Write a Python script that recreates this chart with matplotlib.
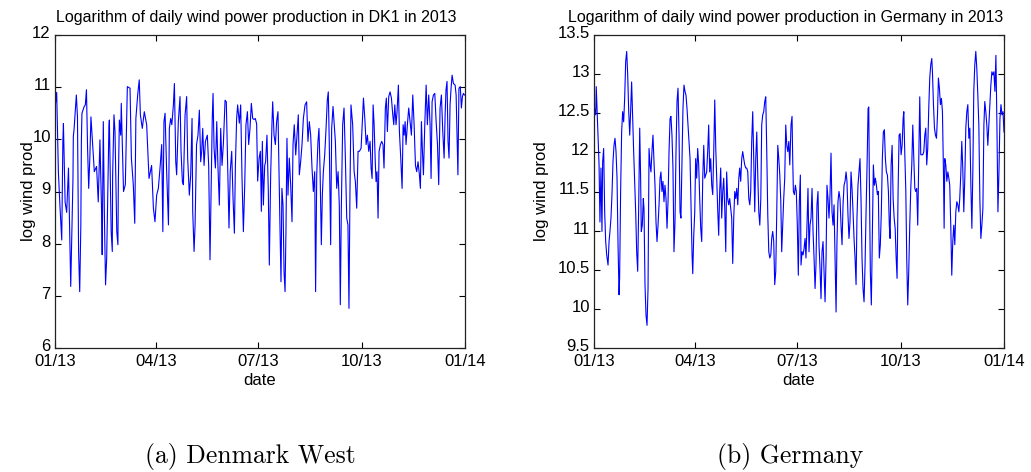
import numpy as np
import matplotlib
matplotlib.use("Agg")
import matplotlib.pyplot as plt
import matplotlib.transforms as mtransforms

# ---------------- data ----------------
dk_days = [0, 1.5, 3, 4.5, 6, 7, 7.5, 9, 10.4, 12, 13.4, 14, 15, 16, 16.3, 17, 19, 20, 21, 22, 23, 23.5, 24, 26, 27, 28,
           29, 30, 31, 32, 33.5, 35, 37, 38.5, 40, 41.5, 42, 43, 44, 45, 46, 48, 48.4, 50, 51, 51.3, 52.5, 53.4, 55, 56,
           56.4, 57.3, 58.5, 59, 61, 62.6, 64.4, 66.8, 68, 69.7, 71, 72, 73.6, 75, 76, 77.7, 79.5, 81.6, 83.7,
           86, 87.6, 89, 90.5, 92, 93.5, 95, 96, 97, 98, 99.4, 101, 101.8, 103, 104, 105.4, 106.3, 107.5, 108.3, 109.8,
           111.3, 112.2, 113.4, 114.3, 115.8, 117.2, 118.1, 119.6, 120.8, 122, 122.6, 123.8, 124.7, 126, 127.3, 128.5,
           129.7, 130.6, 131.5, 132.7, 133.9, 135.6, 136.8, 138, 139.2, 140, 140.7, 141.6, 142.8, 144, 145.1, 146.3,
           147.5, 148.7, 149.9, 151.4, 152.5, 153.7, 154.9, 156, 157.3, 158.5, 159.7, 160.6, 161.7, 162.6, 164.1, 165.3,
           166.5, 167.7, 168.9, 170, 171.3, 172.4, 173.6, 174.8, 176, 177.2, 178.3, 179.5, 180.4, 181.7,
           182.8, 183.7, 184.6, 185.5, 186.7, 187.5, 188.7, 189.9, 190.8, 192, 193.2, 193.8, 195, 196.2, 197.3, 198.5,
           199.4, 200.3, 201.2, 202, 203, 203.9, 204.8, 205.6, 206.5, 207.4, 208.6, 209.8, 211, 211.9, 213, 214.3, 215.4,
           216.6, 217.5, 218.7, 219.9, 221.1, 222.6, 224, 225.2, 226.4, 227.6, 228.8, 230, 231.2, 232, 233, 234.1, 235,
           236, 237.1, 238, 238.9, 240.1, 241.3, 242.4, 243.3, 244.2, 245.4, 246.3, 247.5, 248.6, 249.6, 250.8, 252,
           253.1, 254, 254.9, 256.1, 257.3, 258.5, 259.7, 260.8, 261.7, 262.6, 263.5,
           265, 266.3, 267.4, 268.6, 269.8, 271, 272.5, 273.7, 274.6, 275.8, 277, 278.1, 279.3, 280.5, 281.4, 282.3,
           283.2, 284.1, 285, 285.8, 286.7, 287.6, 288.5, 289.7, 290.9, 292, 292.9, 294.1, 295, 295.9, 297.1, 298.3,
           299.5, 300.7, 301.6, 302.5, 303.6, 304.5, 305.7, 306.6, 307.8, 309, 309.9, 310.8, 311.7, 312.5, 313.7, 314.9,
           316.1, 317.3, 318.5, 319.7, 320.9, 322, 323.2, 324.4, 325.3, 326.2, 327.1, 328, 329.2, 330.4, 331.5, 332.7,
           333.9, 334.8, 335.7, 336.9, 338.1, 339.3, 340.5, 341.6, 342.8, 344, 345.2, 346.4, 347.3, 348.1, 349, 349.9,
           350.8, 351.7, 352.6, 353.5, 354.7, 356.2, 357.1, 358, 358.7, 359.6, 360.8, 361.8, 362.7, 363.6, 364.5]
dk_vals = [10.6, 10.9, 9.38, 8.68, 8.07, 9.96, 10.3, 8.8, 8.6, 9.45, 7.9, 7.18, 8.23, 9.25, 10.05, 10.2, 10.85, 10.43,
           7.85, 7.08, 8.36, 9.99, 10.5, 10.63, 10.66, 10.95, 9.83, 9.06, 9.64, 10.43, 9.9, 9.38, 9.48, 8.8, 9.99, 8.6,
           7.79, 10.34, 8.49, 7.21, 7.72, 10.24, 10.37, 8.23, 7.85, 9.3, 10.47, 10.15, 8.23, 7.98, 9.19, 10.37, 10.08,
           10.69, 9.0, 9.13, 11.01, 10.98, 9.64, 9.13, 8.39, 10.4, 10.85, 11.14, 10.47, 10.21, 10.53, 10.28, 9.25,
           9.5, 8.68, 8.42, 8.93, 9.06, 9.45, 9.9, 8.23, 10.34, 10.5, 9.38, 8.36, 10.21, 10.4, 10.28, 10.66, 11.07, 9.57,
           9.32, 10.34, 10.82, 9.77, 9.19, 9.13, 10.47, 10.82, 9.64, 8.93, 9.32, 10.4, 8.62, 7.85, 8.36, 9.9, 10.08,
           10.56, 9.57, 9.77, 10.21, 9.5, 9.96, 10.08, 9.5, 7.69, 9.32, 10.4, 10.88, 9.83, 9.45, 10.34, 9.45, 8.74,
           10.21, 9.5, 9.92, 10.75, 10.72, 9.5, 8.3, 9.38, 9.77, 8.87, 8.2, 9.5, 10.4, 10.66, 10.31, 10.66, 9.25, 8.23,
           9.13, 10.28, 10.53, 9.9, 10.21, 10.69, 10.4, 10.38, 10.4, 10.3, 9.2, 9.64,
           9.77, 8.62, 9.96, 8.74, 9.5, 9.57, 10.08, 9.0, 7.59, 9.32, 10.34, 10.72, 10.08, 9.9, 10.34, 10.53, 9.38, 8.3,
           7.27, 9.06, 8.74, 7.46, 7.08, 8.23, 10.02, 8.93, 9.64, 9.13, 8.42, 9.9, 10.28, 9.7, 10.08, 10.47, 9.32, 9.57,
           9.9, 10.4, 10.66, 10.72, 9.96, 10.34, 10.08, 9.45, 9.0, 9.38, 7.08, 9.32, 9.96, 10.21, 9.38, 7.98, 8.93, 9.38,
           9.7, 10.21, 10.75, 10.91, 9.9, 7.98, 10.21, 10.63, 10.28, 9.96, 9.06, 9.38, 8.74, 6.83, 8.68, 10.28, 10.6,
           9.64, 8.49, 8.36, 6.76, 9.0, 10.66,
           10.28, 9.38, 9.19, 8.68, 9.77, 9.77, 9.83, 10.4, 10.79, 10.4, 9.9, 10.08, 9.77, 9.96, 9.45, 9.25, 10.66,
           10.28, 9.64, 9.19, 9.38, 8.49, 9.77, 9.9, 9.96, 9.9, 9.45, 10.6, 10.79, 10.15, 10.82, 10.91, 10.79, 10.47,
           10.28, 10.66, 10.28, 10.53, 11.04, 10.15, 9.64, 9.06, 10.28, 10.08, 10.34, 9.9, 10.28, 10.6, 10.34, 10.08,
           10.85, 10.28, 9.5, 9.38, 9.57, 9.32, 9.06, 10.34, 9.77, 9.32, 10.28, 11.04, 10.28, 10.85, 10.28, 9.25, 10.72,
           10.85, 10.88, 10.34, 9.9, 9.13, 10.6, 10.85, 10.15, 9.64, 10.47, 10.95, 11.11, 9.96, 9.64, 10.66, 10.98,
           11.23, 11.07, 11.04, 10.85, 9.96, 9.32, 10.98, 11.01, 10.6, 10.82, 10.88, 10.85]

de_days = [0, 1.5, 2, 3, 3.9, 4.5, 5.3, 6.2, 7.1, 7.7, 8.6, 9.5, 10.4, 11.3, 12.5, 13.4, 14.2, 15.1, 16, 16.9, 17.8,
           18.7, 19.6, 20.5, 21.4, 22.3, 22.8, 23.7, 24.6, 25.5, 26.4, 27.3, 28.2, 29.1, 30, 30.9, 31.8, 32.6, 33.5,
           34.4, 35.3, 36.2, 37.1, 38, 38.9, 39.8, 40.7, 41.5, 42.1, 43, 43.9, 44.5, 45.4, 46.3, 47.2, 48.1, 49, 49.9,
           50.7, 51.6, 52.5, 53.4, 54.3, 55.2, 56.1, 57, 57.9, 58.8, 59.6, 60.5, 61.4, 62.3, 63.2, 64.1, 65, 65.9, 66.8,
           67.7, 68.5, 69.4, 70.3, 71.2, 72.1, 73, 73.9, 74.8, 75.7, 76.6, 77.4, 78.3, 79.2, 80.1, 81, 81.9, 82.8, 83.7,
           84.9, 85.5, 86.4, 87.3, 87.9, 88.8, 89.7, 90.5, 91.4, 92.3, 93.2, 94.1, 95, 95.9, 96.8, 97.7, 98.6, 99.4,
           100.3, 101.2, 102.1, 103, 103.9, 104.8, 105.7, 106.6, 107.5, 108.4, 109.2, 110.1, 111, 111.9, 112.8, 113.7,
           114.6, 115.5, 116.4, 117.3, 118.1, 119, 119.9, 120.8, 121.7, 122.6, 123.5, 124.4, 125.3, 126.2, 127.1, 128,
           128.9, 129.7, 130.6, 131.5, 132.4, 133.3, 134.2, 135.1, 136, 136.9, 137.8, 138.7, 139.5, 140.4, 141.3, 142.2,
           143.1, 144, 144.9, 145.8, 146.7, 147.6, 148.5, 149.3, 150.2, 151.1, 152, 152.9, 153.8, 154.7, 155.6, 156.5,
           157.4, 158.2, 159.1, 160, 160.9, 161.8, 162.7, 163.6, 164.5, 165.4, 166.3, 167.1, 168, 168.9, 169.8, 170.7,
           171.6, 172.5, 173.4, 174.3, 175.4, 176.3, 176.9, 177.5, 178.4, 179.3, 180.1, 181, 181.9, 182.8, 183.7, 184.3,
           185.2, 186.1, 187, 187.9, 188.7, 189.6, 190.5, 191.4, 192.3, 193.2, 194.1, 195, 195.9, 196.8, 197.6, 198.5,
           199.4, 200.3, 201.2, 202.1, 203, 203.9, 204.8, 205.7, 206.6, 207.4, 208.3, 209.2, 210.1, 211, 211.9, 212.8,
           213.7, 214.6, 215.5, 216.3, 217.2, 218.1, 219, 219.9, 220.8, 221.7, 222.6, 223.5, 224.4, 225.2, 226.1, 227,
           227.9, 228.8, 229.7, 230.6, 231.5, 232.4, 233.3, 234.1, 235, 235.9, 236.8, 237.7, 238.6, 239.5, 240.4, 241.3,
           242.2, 243.1, 244, 244.6, 245.1, 246, 246.9, 247.8, 248.7, 249.6, 250.5, 251.4, 252.3, 253.1, 254, 254.9,
           255.8, 256.7, 257.6, 258.5, 259.4, 260.3, 261.2, 262.1, 262.9, 263.6, 264.5, 265.4, 266.3, 267.2, 268.1, 269,
           269.8, 270.7, 271.6, 272.5, 273.4, 274.3, 275.2, 275.8, 276.7, 277.6, 278.4, 279.3, 280.2, 281.1, 282, 282.9,
           283.8, 284.7, 285.6, 286.4, 287.3, 288.2, 289.1, 290, 290.9, 291.8, 292.7, 293.6, 294.5, 295.4, 296.2, 297.1,
           298, 298.9, 299.8, 300.7, 301.3, 302.2, 303.1, 304, 304.9, 305.8, 306.6, 307.5, 308.4, 309.3, 310.2, 311.1,
           311.7, 312.3, 313.2, 314.1, 315, 315.9, 316.7, 317.6, 318.5, 319.4, 320.3, 321.2, 322.1, 323, 323.9, 324.8,
           325.6, 326.5, 327.4, 328.3, 329.2, 330.1, 331, 331.9, 332.8, 333.7, 334.6, 335.5, 336.4, 337.3, 338.1, 339,
           339.9, 340.8, 341.7, 342.6, 343.5, 344.4, 345.3, 346.2, 347.1, 347.9, 348.8, 349.7, 350.6, 351.5, 352.4,
           353.3, 354.2, 355.1, 356, 356.9, 357.8, 358.7, 359.6, 360.5, 361.4, 362.3, 363.2, 364.1, 365]
de_vals = [12.6, 12.48, 12.84, 12.43, 12.09, 11.84, 11.11, 11.8, 10.99, 11.88, 12.05, 11.24, 10.86, 10.69, 10.56,
           10.86, 10.99, 11.16, 11.46, 11.88, 12.09, 12.18, 12.01, 11.67, 10.82, 10.18, 10.39, 11.5, 12.26, 12.52,
           12.39, 12.69, 13.16, 13.29, 12.99, 12.52, 12.22, 12.52, 12.9, 12.43, 12.01, 11.63, 11.24, 10.73, 10.48,
           11.33, 12.31, 11.67, 10.99, 11.07, 11.41, 11.28, 10.31, 9.92, 9.79, 10.26, 12.05, 11.84, 11.75, 12.01, 12.22,
           11.88, 11.58, 11.11, 10.86, 11.07, 11.33, 11.67, 11.75, 11.5, 11.63, 11.37, 11.58, 11.41, 11.03, 11.37,
           12.01, 12.43, 12.46, 12.22, 11.8, 10.73, 11.11, 12.01, 12.65, 12.82, 12.22, 11.24, 11.16, 11.84, 12.56,
           12.86, 12.78, 12.73, 12.56, 12.35, 12.05, 11.92, 11.28, 10.69, 10.45, 10.94, 11.24, 11.92, 11.67, 12.05,
           11.84, 11.41, 11.03, 10.86, 11.67, 12.09, 11.67, 11.71, 11.75, 12.01, 12.35, 11.75, 11.92, 11.58, 11.46,
           12.01, 12.67, 12.05, 11.67, 11.28, 10.94, 11.5, 11.8, 11.16, 11.5, 11.67, 11.28, 10.73, 11.75, 11.41, 11.33,
           11.41, 11.28, 11.16, 10.58, 11.16, 11.5, 11.41, 11.54, 11.33, 11.67, 11.8, 11.63, 11.92, 12.01, 11.92,
           11.84, 11.8, 11.8, 11.75, 11.41, 11.33, 11.5, 12.14, 12.52, 11.92, 11.24, 11.92, 12.26, 11.71, 11.24, 11.07,
           11.41, 12.35, 12.48, 12.52, 12.65, 12.71, 12.01, 11.2, 10.73, 10.65, 10.69, 10.9, 10.99, 10.86, 10.31,
           10.48, 11.24, 12.09, 11.92, 11.71, 11.37, 10.73, 11.07, 11.41, 11.67, 12.35, 12.09, 12.01, 12.14, 11.84,
           12.35, 12.46, 11.92, 11.5, 11.46, 11.58, 11.5, 11.07, 10.43, 11.37, 11.71, 10.56, 10.73, 10.69, 10.77, 10.9,
           10.65, 11.07, 11.54, 10.73, 11.07, 11.16, 11.54, 10.99, 10.65, 10.26, 10.56, 11.33, 11.5, 10.82, 10.52,
           10.13, 10.73, 10.86, 10.48, 10.09, 10.65, 11.58, 11.41, 11.16, 11.46, 11.99, 11.24, 11.07, 11.33, 10.65,
           9.96, 10.86, 11.37, 11.5, 11.41, 11.07, 10.82, 11.33, 11.58, 11.63, 11.75, 11.63, 11.2, 10.9, 11.11, 11.75,
           11.54, 11.24, 10.9, 10.65, 10.31, 11.16, 11.58, 11.75, 11.92, 11.41, 10.65, 10.26, 10.09, 10.56, 11.24,
           11.84, 12.56, 12.58, 11.71, 10.48, 10.05, 10.99, 11.84, 11.58, 11.67, 11.58, 11.46, 11.5, 10.65, 10.82,
           11.24, 11.92, 12.26, 12.29, 11.92, 11.75, 11.71, 11.5, 11.07, 10.9, 11.84, 12.09, 11.41, 11.16, 11.03,
           10.65, 10.39, 11.5, 12.22, 12.24, 11.97, 12.09, 12.43, 12.52, 11.97, 11.5, 10.65, 10.05, 10.48, 11.07,
           11.54, 11.84, 12.35, 11.92, 11.54, 11.5, 11.54, 11.07, 11.88, 12.71, 11.97, 11.97, 11.97, 12.01, 12.22,
           12.31, 11.84, 12.05, 12.56, 12.95, 13.12, 13.2, 13.03, 12.61, 12.31, 12.22, 12.18, 12.48, 12.95, 12.82,
           12.61, 12.69, 12.52, 11.75, 11.03, 11.92, 11.84, 11.63, 11.75, 11.67, 11.58, 11.07, 10.43, 10.86, 11.07,
           10.82, 11.24, 11.37, 11.33, 11.24, 11.41, 11.71, 12.14, 11.8, 11.24, 11.67, 12.31, 12.52, 12.61, 12.18,
           12.31, 11.58, 11.03, 11.8, 12.78, 13.12, 13.29, 13.07, 12.73, 12.35, 11.41, 10.9, 11.07, 11.28, 12.35,
           12.65, 12.52, 12.35, 12.09, 12.35, 12.61, 12.86, 13.03, 12.99, 13.03, 12.78, 13.24, 12.35, 11.24, 11.75,
           12.43, 12.61, 12.48, 12.52, 12.26]

tick_days = [0, 90, 181, 273, 365]
tick_labels = ["01/13", "04/13", "07/13", "10/13", "01/14"]
dk_yticks = [6, 7, 8, 9, 10, 11, 12]
de_yticks = [9.5, 10, 10.5, 11, 11.5, 12, 12.5, 13, 13.5]
dk_title = "Logarithm of daily wind power production in DK1 in 2013"
de_title = "Logarithm of daily wind power production in Germany in 2013"
captions = ["(a) Denmark West", "(b) Germany"]

# ---------------- figure ----------------
W, H = 1031, 472
fig = plt.figure(figsize=(W / 100, H / 100), dpi=100)
sans = ["Liberation Sans", "DejaVu Sans"]


def px_axes(x0, x1, y0, y1):
    return fig.add_axes([x0 / W, 1 - y1 / H, (x1 - x0) / W, (y1 - y0) / H])


ax1 = px_axes(55, 465, 35, 348)
ax2 = px_axes(594, 1004, 35, 348)

up = mtransforms.ScaledTranslation(0, 3 / 100, fig.dpi_scale_trans)

for ax, d, v, yt, ttl, ylim, ylab_x, ttl_x in [
    (ax1, dk_days, dk_vals, dk_yticks, dk_title, (6, 12), (36 - 55) / 410, (256 - 55) / 410),
    (ax2, de_days, de_vals, de_yticks, de_title, (9.5, 13.5), (549 - 594) / 410, (786 - 594) / 410),
]:
    ax.plot(d, v, color="#0000ff", lw=0.8)
    ax.set_xlim(0, 365)
    ax.set_ylim(*ylim)
    ax.set_xticks(tick_days)
    ax.set_xticklabels(tick_labels, fontfamily=sans, fontsize=12)
    ax.set_yticks(yt)
    ax.set_yticklabels([f"{t:g}" for t in yt], fontfamily=sans, fontsize=12)
    ax.tick_params(direction="in", top=True, right=True, length=4, width=0.8,
                   colors="black")
    ax.tick_params(axis="x", pad=4)
    ax.tick_params(axis="y", pad=3)
    for lab in ax.get_yticklabels():
        lab.set_transform(lab.get_transform() + up)
    for s in ax.spines.values():
        s.set_linewidth(0.9)
        s.set_color("#222222")
    t = ax.set_title(ttl, fontfamily=sans, fontsize=11.5, pad=9.6)
    t.set_x(ttl_x)
    ax.set_xlabel("date", fontfamily=sans, fontsize=12, labelpad=3)
    ax.set_ylabel("log wind prod", fontfamily=sans, fontsize=12)
    ax.yaxis.set_label_coords(ylab_x, 0.5)

fig.text(250 / W, 1 - 457 / H, captions[0], fontfamily=["cmr10", "DejaVu Serif"],
         fontsize=18.5, ha="center", va="center")
fig.text(790 / W, 1 - 457 / H, captions[1], fontfamily=["cmr10", "DejaVu Serif"],
         fontsize=18.5, ha="center", va="center")

fig.savefig("out.png", dpi=100)
